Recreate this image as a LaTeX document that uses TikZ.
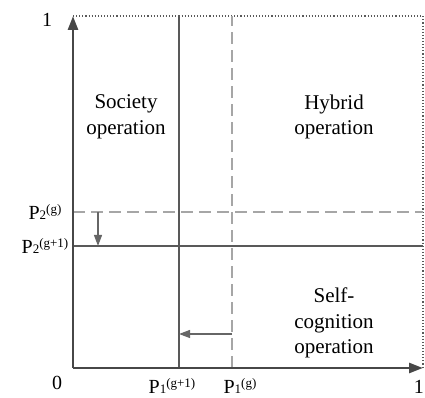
\documentclass[tikz,border=0pt]{standalone}
\usepackage{fontspec}
\setmainfont{Liberation Serif}
\usetikzlibrary{arrows.meta}
\newcommand{\plab}[2]{P\raisebox{-0.5pt}{\fontsize{13}{13}\selectfont #1}\raisebox{6pt}{\fontsize{13}{13}\selectfont (#2)}}
\begin{document}
\begin{tikzpicture}[x=1pt,y=1pt,
  axis/.style={line width=2.8pt,draw=black!72,-{Triangle[length=14pt,width=10pt]}},
  solidline/.style={line width=1.6pt,draw=black!65},
  dashline/.style={line width=1.6pt,draw=black!35,dash pattern=on 12pt off 6pt},
  frameline/.style={line width=1.1pt,draw=black!65,dotted},
  moveline/.style={line width=1.2pt,draw=black!60,-{Triangle[length=11pt,width=8pt]}},
  lab/.style={font=\fontsize{21}{25.5}\selectfont,align=center,inner sep=0pt},
  tick/.style={font=\fontsize{20}{22}\selectfont,inner sep=0pt}]
\useasboundingbox (0,0) rectangle (425,398);
\coordinate (O) at (73,30);
\coordinate (Ytop) at (73,382);
\coordinate (Xend) at (423,30);
\coordinate (TR) at (423,382);
% frame
\draw[frameline] (Ytop) -- (TR) -- (Xend);
% dashed lines (previous gen)
\coordinate (d1b) at (232,30);
\coordinate (d1t) at (232,382);
\coordinate (d2l) at (73,186);
\coordinate (d2r) at (423,186);
\draw[dashline] (d1b) -- (d1t);
\draw[dashline] (d2l) -- (d2r);
% solid lines (next gen)
\coordinate (s1b) at (179,30);
\coordinate (s1t) at (179,382);
\coordinate (s2l) at (73,152);
\coordinate (s2r) at (423,152);
\draw[solidline] (s1b) -- (s1t);
\draw[solidline] (s2l) -- (s2r);
% axes
\draw[axis] (O) -- (Xend);
\draw[axis] (O) -- (Ytop);
% movement arrows
\coordinate (a1s) at (98,186);
\coordinate (a1e) at (98,152);
\draw[moveline] (a1s) -- (a1e);
\coordinate (a2s) at (232,64);
\coordinate (a2e) at (179,64);
\draw[moveline] (a2s) -- (a2e);
% region labels
\node[lab] (soc) at (126,281) {Society\\operation};
\node[lab] (hyb) at (334,281) {Hybrid\\operation};
\node[lab] (self) at (334,75) {Self-\\cognition\\operation};
% tick labels
\node[tick] (one) at (47,378) {1};
\node[tick] (zero) at (57,15) {0};
\node[tick,anchor=east] (onex) at (424,11) {1};
\node[tick] (p2g) at (45,186) {\plab{2}{g}};
\node[tick] (p2g1) at (45,152) {\plab{2}{g+1}};
\node[tick] (p1g1) at (172,12) {\plab{1}{g+1}};
\node[tick] (p1g) at (240,12) {\plab{1}{g}};
\end{tikzpicture}
\end{document}
